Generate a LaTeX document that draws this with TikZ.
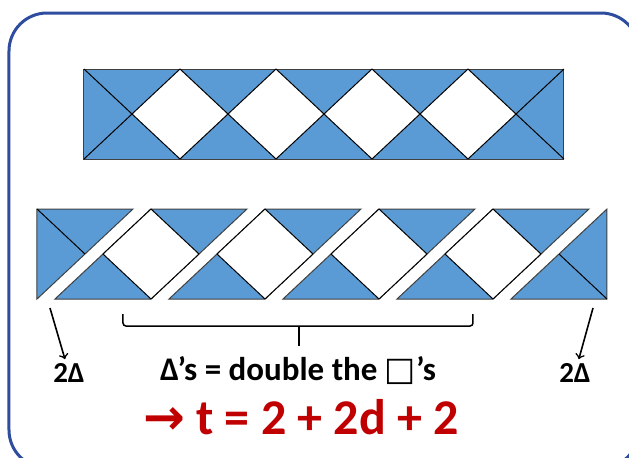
\documentclass[tikz,border=0pt]{standalone}
\usepackage{fontspec}
\setmainfont{Carlito}
\newfontfamily\symfont{DejaVu Sans}
\usepackage{tikz}
\usetikzlibrary{calc}
\definecolor{tileblue}{HTML}{5B9BD5}
\definecolor{frameblue}{HTML}{2F4D9E}
\definecolor{answerred}{HTML}{C00000}

\begin{document}
\begin{tikzpicture}[x=0.5pt,y=-0.5pt,
  tile/.style={fill=tileblue,draw=black!75,line width=0.5pt},
  hole/.style={fill=white,draw=black,line width=0.5pt},
  seam/.style={draw=black,line width=0.5pt},
  ptr/.style={-to,line width=0.8pt},
  bracket/.style={line width=0.75pt,rounded corners=1.5pt},
  lbl/.style={font=\bfseries\fontsize{14.5}{16}\selectfont,inner sep=2pt}]
\useasboundingbox (0,0) rectangle (629,457);
\clip (0,0) rectangle (629,457);
\draw[frameblue,line width = 1.5pt,rounded corners=19pt] (9,13) rectangle (639,468);

% whole strip
\filldraw[tile] (84,69) rectangle (564,159);
\filldraw[hole] (132,114) -- (180,69) -- (228,114) -- (180,159) -- cycle;
\filldraw[hole] (228,114) -- (276,69) -- (324,114) -- (276,159) -- cycle;
\filldraw[hole] (324,114) -- (372,69) -- (420,114) -- (372,159) -- cycle;
\filldraw[hole] (420,114) -- (468,69) -- (516,114) -- (468,159) -- cycle;
\draw[seam] (84,69) -- (132,114) -- (84,159);
\draw[seam] (564,69) -- (516,114) -- (564,159);

% cut strip
\filldraw[tile] (37,209) -- (133,209) -- (37,299) -- cycle;
\draw[seam] (37,209) -- (85,254);
\filldraw[tile] (55,299) -- (151,299) -- (247,209) -- (151,209) -- cycle;
\filldraw[hole] (103,254) -- (151,209) -- (199,254) -- (151,299) -- cycle;
\filldraw[tile] (169,299) -- (265,299) -- (361,209) -- (265,209) -- cycle;
\filldraw[hole] (217,254) -- (265,209) -- (313,254) -- (265,299) -- cycle;
\filldraw[tile] (283,299) -- (379,299) -- (475,209) -- (379,209) -- cycle;
\filldraw[hole] (331,254) -- (379,209) -- (427,254) -- (379,299) -- cycle;
\filldraw[tile] (397,299) -- (493,299) -- (589,209) -- (493,209) -- cycle;
\filldraw[hole] (445,254) -- (493,209) -- (541,254) -- (493,299) -- cycle;
\filldraw[tile] (511,299) -- (607,299) -- (607,209) -- cycle;
\draw[seam] (607,299) -- (559,254);

% labels
\node[lbl] (twoL) at (69,373) {2Δ};
\node[lbl] (twoR) at (575,373) {2Δ};
\node[lbl,font=\bfseries\fontsize{16.5}{18}\selectfont] (rule) at (298,371) {Δ’s = double the {\symfont\char"25A1}’s};
\node[font=\bfseries\fontsize{25}{28}\selectfont,text=answerred,inner sep=0pt] (total) at (301,417) {{\symfont\char"2192} t = 2 + 2d + 2};

\coordinate (armL) at (50,308);
\coordinate (armR) at (593,308);
\draw[ptr] (armL) -- (twoL);
\draw[ptr] (armR) -- (twoR);

\coordinate (braceL) at (123,314);
\coordinate (braceR) at (473,314);
\coordinate (braceM) at (299,326);
\coordinate (braceT) at (299,346);
\draw[bracket] (braceL) -- (123,326) -- (473,326) -- (braceR);
\draw[line width=0.75pt] (braceM) -- (braceT);
\end{tikzpicture}
\end{document}
